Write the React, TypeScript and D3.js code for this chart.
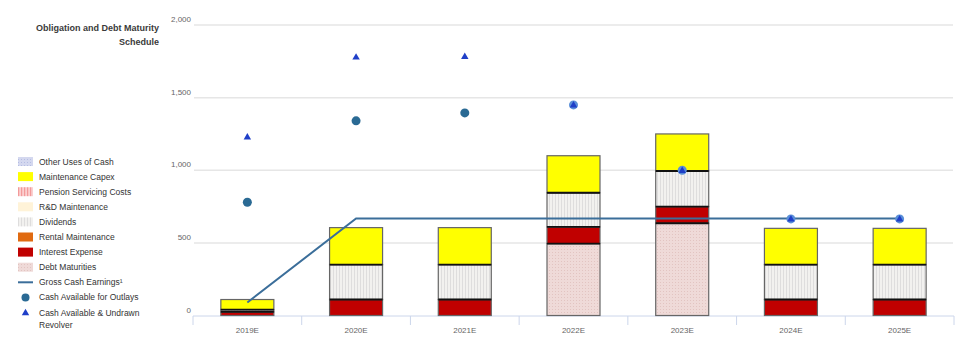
import React from "react";
import * as d3 from "d3";

const years = ["2019E", "2020E", "2021E", "2022E", "2023E", "2024E", "2025E"];
const debtMaturities = [0, 0, 0, 495, 635, 0, 0];
const interestExpense = [25, 110, 110, 115, 115, 110, 110];
const rentalMaintenance = [0, 0, 0, 0, 0, 0, 0];
const dividends = [15, 240, 240, 235, 245, 240, 240];
const rdMaintenance = [0, 0, 0, 0, 0, 0, 0];
const pensionServicing = [0, 0, 0, 0, 0, 0, 0];
const maintenanceCapex = [70, 255, 255, 255, 255, 250, 250];
const otherUses = [0, 0, 0, 0, 0, 0, 0];
const grossCashEarnings = [90, 668, 668, 668, 668, 668, 668];
const cashAvailable = [780, 1340, 1395, 1450, 1000, 665, 665];
const cashAvailableRevolver = [1230, 1780, 1785, 1450, 1000, 665, 665];
const yTicks = [0, 500, 1000, 1500, 2000];

const seriesKeys = [
  "debt", "interest", "rental", "dividends", "rd", "pension", "capex", "other",
];
const seriesData: Record<string, number[]> = {
  debt: debtMaturities,
  interest: interestExpense,
  rental: rentalMaintenance,
  dividends: dividends,
  rd: rdMaintenance,
  pension: pensionServicing,
  capex: maintenanceCapex,
  other: otherUses,
};
const seriesFill: Record<string, string> = {
  debt: "url(#patDebt)",
  interest: "#c00000",
  rental: "#e06a10",
  dividends: "url(#patDiv)",
  rd: "#fff3d8",
  pension: "url(#patPension)",
  capex: "#ffff00",
  other: "url(#patOther)",
};

const legendItems = [
  { label: "Other Uses of Cash", kind: "rect", fill: "url(#patOther)" },
  { label: "Maintenance Capex", kind: "rect", fill: "#ffff00" },
  { label: "Pension Servicing Costs", kind: "rect", fill: "url(#patPension)" },
  { label: "R&D Maintenance", kind: "rect", fill: "#fff3d8" },
  { label: "Dividends", kind: "rect", fill: "url(#patDiv)" },
  { label: "Rental Maintenance", kind: "rect", fill: "#e06a10" },
  { label: "Interest Expense", kind: "rect", fill: "#c00000" },
  { label: "Debt Maturities", kind: "rect", fill: "url(#patDebt)" },
  { label: "Gross Cash Earnings\u00b9", kind: "line", fill: "#3b6e9a" },
  { label: "Cash Available for Outlays", kind: "dot", fill: "#2a6a94" },
  { label: "Cash Available & Undrawn", label2: "Revolver", kind: "tri", fill: "#1f3fc8" },
];

export default function App() {
  const W = 975;
  const H = 356;
  const x = d3.scaleBand<string>().domain(years).range([193, 954]).padding(0);
  const y = d3.scaleLinear().domain([0, 2000]).range([315.5, 25]);
  const barW = 53;
  const cx = (yr: string) => (x(yr) as number) + x.bandwidth() / 2;

  const table = years.map((yr, i) => {
    const row: any = { year: yr };
    seriesKeys.forEach((k) => (row[k] = seriesData[k][i]));
    return row;
  });
  const stacked = d3.stack<any>().keys(seriesKeys)(table);

  const lineGen = d3
    .line<number>()
    .x((_, i) => cx(years[i]))
    .y((d) => y(d));

  const tri = d3.symbol().type(d3.symbolTriangle).size(24)();
  const font = "'Liberation Sans', Arial, sans-serif";

  return (
    <svg
      width={W}
      height={H}
      style={{ position: "absolute", left: 0, top: 0, background: "#fff" }}
      fontFamily={font}
    >
      <defs>
        <pattern id="patDiv" width="3" height="4" patternUnits="userSpaceOnUse">
          <rect width="3" height="4" fill="#f2f1ef" />
          <rect x="0" width="0.8" height="4" fill="#d9d9d9" />
        </pattern>
        <pattern id="patDebt" width="3" height="3" patternUnits="userSpaceOnUse">
          <rect width="3" height="3" fill="#efdad8" />
          <rect x="0" y="0" width="1" height="1" fill="#e2c4c1" />
        </pattern>
        <pattern id="patPension" width="3" height="4" patternUnits="userSpaceOnUse">
          <rect width="3" height="4" fill="#fbd0d0" />
          <rect x="0" width="1.2" height="4" fill="#f39a9a" />
        </pattern>
        <pattern id="patOther" width="3" height="3" patternUnits="userSpaceOnUse">
          <rect width="3" height="3" fill="#d4d8ef" />
          <rect x="0" y="0" width="1" height="1" fill="#b5bde3" />
        </pattern>
      </defs>

      {/* Title */}
      <text x={159} y={31} textAnchor="end" fontSize={9} fontWeight={600} fill="#3a3a3a">
        Obligation and Debt Maturity
      </text>
      <text x={159} y={45} textAnchor="end" fontSize={9} fontWeight={600} fill="#3a3a3a">
        Schedule
      </text>

      {/* gridlines */}
      {yTicks.map((t) =>
        t === 0 ? null : (
          <line key={"g" + t} x1={194} x2={953} y1={y(t)} y2={y(t)} stroke="#e6e6e6" strokeWidth={1.5} />
        )
      )}
      {yTicks.map((t) => (
        <text key={"yl" + t} x={191} y={y(t) - 3} textAnchor="end" fontSize={8} fill="#666">
          {d3.format(",")(t)}
        </text>
      ))}

      {/* x axis */}
      <line x1={193} x2={954} y1={316} y2={316} stroke="#ccd6eb" strokeWidth={1} />
      {[...years.map((yr) => x(yr) as number), 954].map((px, i) => (
        <line key={"xt" + i} x1={px} x2={px} y1={316} y2={325} stroke="#ccd6eb" strokeWidth={1} />
      ))}
      {years.map((yr) => (
        <text key={"xl" + yr} x={cx(yr)} y={333} textAnchor="middle" fontSize={8} fill="#666">
          {yr}
        </text>
      ))}

      {/* bars */}
      {stacked.map((s) =>
        s.map((d, i) => {
          const v = d[1] - d[0];
          if (v <= 0) return null;
          const yr = years[i];
          return (
            <rect
              key={s.key + yr}
              x={cx(yr) - barW / 2}
              y={y(d[1])}
              width={barW}
              height={y(d[0]) - y(d[1])}
              fill={seriesFill[s.key]}
              stroke="#666"
              strokeWidth={1.2}
            />
          );
        })
      )}
      {/* segment separators */}
      {stacked.map((s) =>
        s.map((d, i) => {
          const v = d[1] - d[0];
          if (v <= 0 || d[0] <= 0) return null;
          const yr = years[i];
          return (
            <line
              key={"sep" + s.key + yr}
              x1={cx(yr) - barW / 2}
              x2={cx(yr) + barW / 2}
              y1={y(d[0])}
              y2={y(d[0])}
              stroke="#111"
              strokeWidth={1.8}
            />
          );
        })
      )}

      {/* gross cash earnings line */}
      <path d={lineGen(grossCashEarnings) || ""} fill="none" stroke="#3b6e9a" strokeWidth={2} />

      {/* dots */}
      {cashAvailable.map((v, i) => {
        const overlap = Math.abs(y(v) - y(cashAvailableRevolver[i])) < 3;
        return (
          <circle
            key={"dot" + i}
            cx={cx(years[i])}
            cy={y(v)}
            r={4.5}
            fill={overlap ? "#5a8fd8" : "#2a6a94"}
          />
        );
      })}
      {cashAvailableRevolver.map((v, i) => (
        <path
          key={"tri" + i}
          d={tri || ""}
          transform={`translate(${cx(years[i])},${y(v) + 0.5})`}
          fill="#1f3fc8"
        />
      ))}

      {/* legend */}
      {legendItems.map((it, i) => {
        const ly = 161.5 + i * 15.1;
        return (
          <g key={"lg" + i}>
            {it.kind === "rect" && (
              <rect x={18} y={ly - 4.5} width={15} height={9} fill={it.fill} />
            )}
            {it.kind === "line" && (
              <line x1={18} x2={33} y1={ly} y2={ly} stroke={it.fill} strokeWidth={2} />
            )}
            {it.kind === "dot" && <circle cx={25.5} cy={ly} r={4} fill={it.fill} />}
            {it.kind === "tri" && (
              <path d={tri || ""} transform={`translate(25.5,${ly + 0.5})`} fill={it.fill} />
            )}
            <text x={39} y={ly + 3} fontSize={8.5} fill="#333">
              {it.label}
            </text>
            {it.label2 && (
              <text x={39} y={ly + 15} fontSize={8.5} fill="#333">
                {it.label2}
              </text>
            )}
          </g>
        );
      })}
    </svg>
  );
}
